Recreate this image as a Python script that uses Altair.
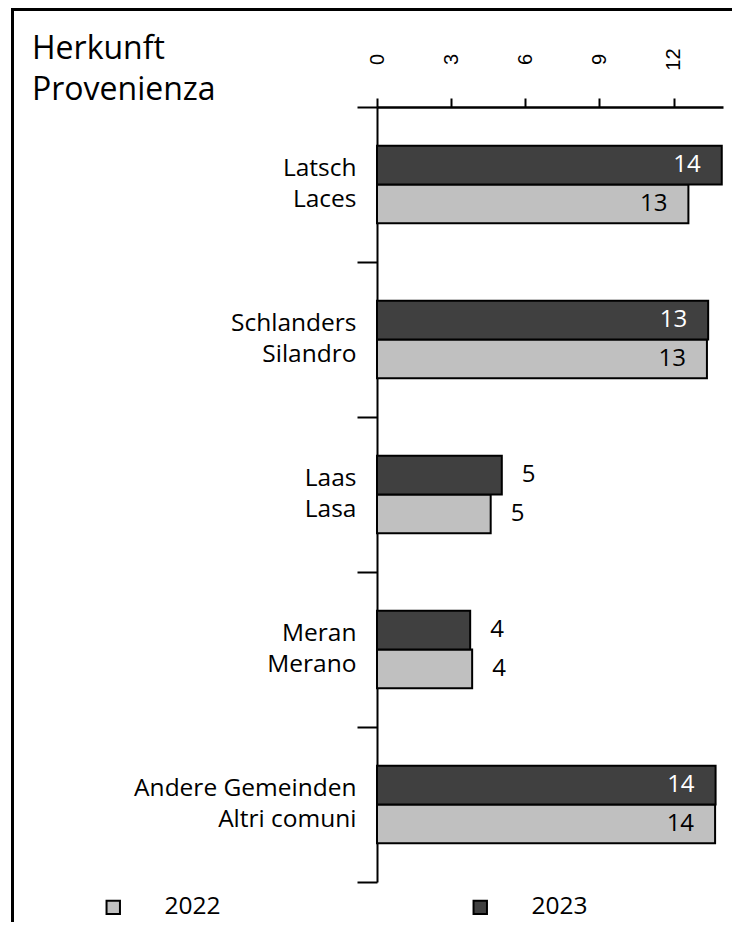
import altair as alt
import pandas as pd

# ---- data ----
categories = ["Latsch|Laces", "Schlanders|Silandro", "Laas|Lasa", "Meran|Merano",
              "Andere Gemeinden|Altri comuni"]
years = ["2022", "2023"]
values_2022 = [12.6, 13.35, 4.6, 3.85, 13.68]
values_2023 = [13.95, 13.4, 5.05, 3.77, 13.7]
x_ticks = [0, 3, 6, 9, 12]
title_lines = ["Herkunft", "Provenienza"]

rows = []
for c, a, b in zip(categories, values_2022, values_2023):
    rows.append({"cat": c, "year": "2022", "value": a})
    rows.append({"cat": c, "year": "2023", "value": b})
df = pd.DataFrame(rows)
one = pd.DataFrame({"k": [0]})

FONT = "Open Sans"

base = alt.Chart(df).encode(
    y=alt.Y("cat:N", sort=categories, title=None,
            scale=alt.Scale(paddingInner=0, paddingOuter=0),
            axis=alt.Axis(orient="left", tickBand="extent", tickSize=20, tickWidth=2,
                          tickColor="black", domainColor="black", domainWidth=2,
                          labelExpr="split(datum.label, '|')", labelFont=FONT,
                          labelFontSize=24.5, labelLineHeight=31, labelPadding=1,
                          labelOffset=-16, labelColor="black", labelLimit=400,
                          grid=False)),
    yOffset=alt.YOffset("year:N", sort=["2023", "2022"],
                        scale=alt.Scale(paddingInner=0, paddingOuter=1)),
    x=alt.X("value:Q", title=None,
            scale=alt.Scale(domain=[0, 14], nice=False, zero=True),
            axis=alt.Axis(orient="top", values=x_ticks, tickSize=9, tickWidth=2,
                          tickColor="black", domainColor="black", domainWidth=2.5,
                          labelAngle=270, labelAlign="center", labelBaseline="middle",
                          labelPadding=39, labelFont="Liberation Sans", labelFontSize=20,
                          labelColor="black", labelFlush=False, grid=False)),
)

bars = base.mark_bar(stroke="black", strokeWidth=2).encode(
    color=alt.Color("year:N", title=None,
                    scale=alt.Scale(domain=years, range=["#c0c0c0", "#404040"]),
                    legend=alt.Legend(orient="none", legendX=-276, legendY=788,
                                      direction="horizontal", columns=2, columnPadding=247,
                                      symbolType="square", symbolSize=180,
                                      symbolStrokeColor="black", symbolStrokeWidth=2,
                                      labelFont=FONT, labelFontSize=24.5, labelOffset=39,
                                      labelColor="black", padding=0))
)

inside = base.mark_text(align="right", baseline="middle", dx=-21, font=FONT,
                        fontSize=24).encode(
    text=alt.Text("value:Q", format=".0f"),
    color=alt.condition("datum.year == '2023'", alt.value("white"), alt.value("black")),
).transform_filter("datum.value > 8")

outside = base.mark_text(align="left", baseline="middle", dx=20, font=FONT,
                         fontSize=24, color="black").encode(
    text=alt.Text("value:Q", format=".0f"),
).transform_filter("datum.value <= 8")

frame_top = alt.Chart(one).mark_rule(stroke="black", strokeWidth=3).encode(
    x=alt.value(-366), x2=alt.value(1000), y=alt.value(-97.5)
)
frame_left = alt.Chart(one).mark_rule(stroke="black", strokeWidth=3).encode(
    x=alt.value(-364.5), y=alt.value(-99), y2=alt.value(2000)
)

title = alt.Chart(one).mark_text(align="left", baseline="alphabetic", font=FONT,
                                 fontSize=32, lineHeight=41, color="black").encode(
    x=alt.value(-345), y=alt.value(-48), text=alt.value(title_lines)
)

chart = alt.layer(frame_top, frame_left, title, bars, inside, outside).properties(
    width=346, height=775,
    padding={"left": 369, "top": 99, "right": 9, "bottom": 40},
    autosize=alt.AutoSizeParams(type="none"),
).configure_view(strokeWidth=0)

chart.save("out.html", embed_options={"renderer": "svg", "actions": False})
